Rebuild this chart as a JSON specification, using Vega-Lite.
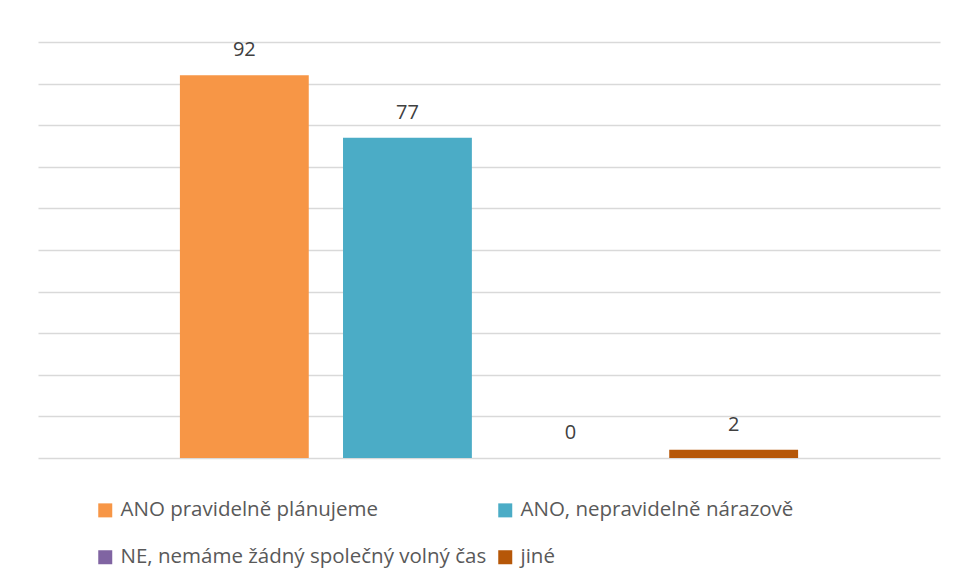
{
  "$schema": "https://vega.github.io/schema/vega-lite/v6.json",
  "width": 902,
  "height": 416,
  "autosize": "none",
  "padding": {"left": 38, "top": 42, "right": 17, "bottom": 125},
  "background": "white",
  "data": {
    "values": [
      {"series": "ANO pravidelně plánujeme", "value": 92},
      {"series": "ANO, nepravidelně nárazově", "value": 77},
      {"series": "NE, nemáme žádný společný volný čas", "value": 0},
      {"series": "jiné", "value": 2}
    ]
  },
  "encoding": {
    "x": {
      "field": "series",
      "type": "nominal",
      "sort": null,
      "axis": null,
      "scale": {"paddingInner": 0.21, "paddingOuter": 0.87}
    },
    "y": {
      "field": "value",
      "type": "quantitative",
      "scale": {"domain": [0, 100], "nice": false},
      "axis": {
        "values": [0, 10, 20, 30, 40, 50, 60, 70, 80, 90, 100],
        "labels": false,
        "ticks": false,
        "domain": false,
        "title": null,
        "grid": true,
        "gridColor": "#d9d9d9",
        "gridWidth": 1.3
      }
    }
  },
  "layer": [
    {
      "mark": {"type": "bar"},
      "encoding": {
        "color": {
          "field": "series",
          "type": "nominal",
          "sort": null,
          "scale": {
            "domain": ["ANO pravidelně plánujeme", "ANO, nepravidelně nárazově", "NE, nemáme žádný společný volný čas", "jiné"],
            "range": ["#F79646", "#4BACC6", "#8064A2", "#B65708"]
          },
          "legend": {
            "title": null,
            "orient": "none",
            "legendX": 57,
            "legendY": 458,
            "columns": 2,
            "direction": "horizontal",
            "symbolType": "square",
            "symbolSize": 196,
            "symbolStrokeWidth": 0,
            "labelFont": "Open Sans",
            "labelFontSize": 20.5,
            "labelColor": "#595959",
            "labelOffset": 5,
            "labelLimit": 500,
            "columnPadding": 8,
            "rowPadding": 26
          }
        }
      }
    },
    {
      "mark": {
        "type": "text",
        "baseline": "middle",
        "dy": -25,
        "font": "Open Sans",
        "fontSize": 20,
        "color": "#404040"
      },
      "encoding": {
        "text": {"field": "value", "type": "quantitative"}
      }
    }
  ],
  "config": {
    "view": {"stroke": null}
  }
}
